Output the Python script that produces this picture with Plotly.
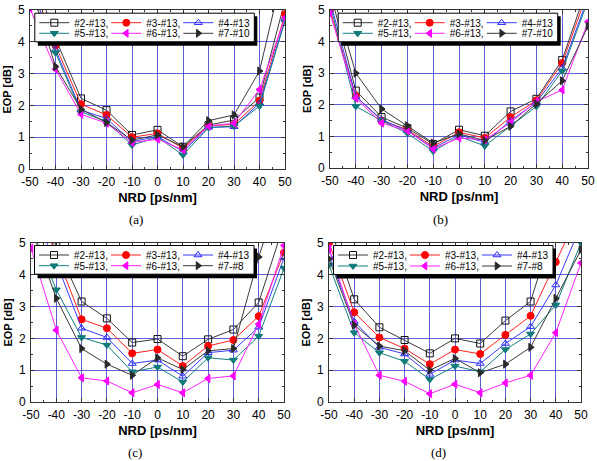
import plotly.graph_objects as go

W, H = 597, 461

# ---------------- data ----------------
NRD = [-50, -40, -30, -20, -10, 0, 10, 20, 30, 40, 50]
Y_TICKS = [0, 1, 2, 3, 4, 5]
X_TICKS = [-50, -40, -30, -20, -10, 0, 10, 20, 30, 40, 50]

names_ab = ["#2-#13,", "#3-#13,", "#4-#13", "#5-#13,", "#6-#13,", "#7-#10"]
names_cd = ["#2-#13,", "#3-#13,", "#4-#13", "#5-#13,", "#6-#13,", "#7-#8"]

# panel (a)
a_s2 = [6.5, 4.1, 2.22, 1.85, 1.07, 1.23, 0.70, 1.38, 1.54, 2.25, 5.3]
a_s3 = [6.0, 3.88, 2.04, 1.70, 1.00, 1.12, 0.65, 1.36, 1.40, 2.15, 4.87]
a_s4 = [5.8, 3.75, 1.85, 1.59, 0.86, 1.02, 0.55, 1.31, 1.33, 2.07, 4.70]
a_s5 = [5.6, 3.66, 1.80, 1.49, 0.75, 1.00, 0.44, 1.30, 1.35, 1.98, 4.66]
a_s6 = [5.05, 3.14, 1.72, 1.44, 0.83, 0.94, 0.60, 1.35, 1.44, 2.50, 4.75]
a_s7 = [5.8, 3.22, 1.88, 1.46, 0.91, 1.07, 0.70, 1.52, 1.70, 3.08, 6.5]

# panel (b)
b_s2 = [5.6, 2.45, 1.61, 1.26, 0.76, 1.21, 1.02, 1.79, 2.19, 3.42, 5.8]
b_s3 = [5.0, 2.28, 1.50, 1.21, 0.68, 1.13, 0.95, 1.61, 2.14, 3.32, 5.6]
b_s4 = [5.3, 2.26, 1.53, 1.18, 0.63, 1.05, 0.81, 1.50, 2.08, 3.16, 5.4]
b_s5 = [5.2, 1.95, 1.50, 1.10, 0.53, 1.00, 0.70, 1.34, 1.95, 3.07, 5.3]
b_s6 = [4.9, 2.21, 1.42, 1.18, 0.60, 0.95, 0.89, 1.44, 2.10, 2.47, 4.63]
b_s7 = [5.8, 3.00, 1.87, 1.34, 0.79, 1.08, 0.87, 1.32, 2.03, 2.76, 4.49]

# panel (c)
c_s2 = [7.0, 4.9, 3.16, 2.63, 1.87, 1.98, 1.44, 1.97, 2.28, 3.13, 5.6]
c_s3 = [6.5, 4.66, 2.60, 2.32, 1.53, 1.65, 1.13, 1.76, 1.95, 2.70, 4.70]
c_s4 = [6.0, 4.4, 2.32, 2.03, 1.21, 1.32, 0.81, 1.55, 1.63, 2.35, 4.53]
c_s5 = [5.5, 3.53, 2.03, 1.79, 0.95, 1.10, 0.63, 1.39, 1.32, 2.07, 4.21]
c_s6 = [4.84, 2.26, 0.76, 0.66, 0.29, 0.55, 0.29, 0.74, 0.82, 2.45, 4.92]
c_s7 = [5.5, 3.26, 1.68, 1.19, 0.84, 1.39, 1.02, 1.61, 1.68, 4.56, 7.0]

# panel (d)
d_s2 = [5.6, 3.23, 2.35, 1.95, 1.53, 2.00, 1.84, 2.56, 3.16, 5.7, 8.0]
d_s3 = [5.0, 2.82, 2.03, 1.68, 1.19, 1.65, 1.51, 2.11, 2.71, 4.40, 6.1]
d_s4 = [4.6, 2.53, 1.72, 1.51, 0.87, 1.32, 1.21, 1.84, 2.37, 3.68, 5.56]
d_s5 = [4.31, 2.18, 1.55, 1.28, 0.71, 1.13, 0.95, 1.65, 2.14, 3.05, 5.0]
d_s6 = [4.82, 2.45, 0.84, 0.65, 0.26, 0.56, 0.29, 0.60, 0.84, 2.18, 4.37]
d_s7 = [4.5, 2.42, 1.76, 1.61, 1.00, 1.37, 0.92, 1.19, 1.72, 3.26, 4.79]

panel_series = [
    [a_s2, a_s3, a_s4, a_s5, a_s6, a_s7],
    [b_s2, b_s3, b_s4, b_s5, b_s6, b_s7],
    [c_s2, c_s3, c_s4, c_s5, c_s6, c_s7],
    [d_s2, d_s3, d_s4, d_s5, d_s6, d_s7],
]
panel_names = [names_ab, names_ab, names_cd, names_cd]
panel_tags = ["(a)", "(b)", "(c)", "(d)"]

# ---------------- styles ----------------
STYLES = [
    dict(line="#3a3a3a", symbol="square-open", mcolor="#111111", mline="#111111"),
    dict(line="#ff2020", symbol="circle", mcolor="#ff0000", mline="#ff0000"),
    dict(line="#3a3aff", symbol="triangle-up-open", mcolor="#2a2aff", mline="#2a2aff"),
    dict(line="#138080", symbol="triangle-down", mcolor="#0f7a7a", mline="#0f7a7a"),
    dict(line="#ff20ff", symbol="triangle-left", mcolor="#ff00ff", mline="#ff00ff"),
    dict(line="#3a3a3a", symbol="triangle-right", mcolor="#2a2a2a", mline="#2a2a2a"),
]

# panel pixel boxes: (x_left, x_right, y_top, y_bottom)
PANELS = [
    (30, 285, 10, 169),
    (330, 588, 10, 168),
    (31, 284, 243, 402),
    (329, 581, 243, 402),
]
# legend symbol start x, row1 centre y, row2 centre y
LEG = [
    (39.3, 22.7, 33.3),
    (342.7, 22.7, 33.3),
    (39.0, 255.0, 265.7),
    (338.0, 255.0, 266.0),
]
TAGS_XY = [(136, 220), (440, 220), (135, 452), (438, 452)]

FONT = "Liberation Sans, Arial, sans-serif"
SERIF = "Liberation Serif, Times New Roman, serif"

def px(x):
    return x / W

def py(y):
    return 1 - y / H

fig = go.Figure()
layout = dict(
    width=W, height=H,
    margin=dict(l=0, r=0, t=0, b=0, autoexpand=False),
    paper_bgcolor="white", plot_bgcolor="white",
    font=dict(family=FONT, color="black"),
    shapes=[], annotations=[],
)

ENTRY_W = 27
ITEM_STEP = 40 + ENTRY_W + 5

for p in range(4):
    xl, xr, yt, yb = PANELS[p]
    ax = "" if p == 0 else str(p + 1)
    common = dict(
        showline=True, linecolor="#333333", linewidth=1, mirror="allticks",
        ticks="inside", ticklen=4, tickcolor="#333333", tickwidth=1,
        showgrid=True, gridcolor="rgba(50,50,205,0.78)", gridwidth=1,
        zeroline=False, tickfont=dict(size=12, family=FONT, color="black"),
    )
    layout["xaxis" + ax] = dict(
        common, domain=[px(xl), px(xr)], range=[-50, 50], anchor="y" + ax,
        tickmode="array", tickvals=X_TICKS, ticktext=[str(v) for v in X_TICKS],
        minor=dict(ticks="inside", ticklen=2, tickcolor="#333333", dtick=5, tick0=0, showgrid=False),
        ticklabelstandoff=2,
        title=dict(text="<b>NRD [ps/nm]</b>", font=dict(size=13, family=FONT), standoff=4),
    )
    layout["yaxis" + ax] = dict(
        common, domain=[py(yb), py(yt)], range=[0, 5], anchor="x" + ax,
        tickmode="array", tickvals=Y_TICKS, ticktext=[str(v) for v in Y_TICKS],
        minor=dict(ticks="inside", ticklen=2, tickcolor="#333333", dtick=0.5, tick0=0, showgrid=False),
        ticklabelstandoff=2,
        title=dict(text="<b>EOP [dB]</b>", font=dict(size=11, family=FONT), standoff=4),
    )

    sx, r1, r2 = LEG[p]
    for row, cy in enumerate([r1, r2]):
        lid = "legend" if (2 * p + row) == 0 else "legend%d" % (2 * p + row + 1)
        layout[lid] = dict(
            x=px(sx - 5), y=py(cy - 14.5), xanchor="left", yanchor="top",
            orientation="h", bgcolor="rgba(0,0,0,0)", borderwidth=0,
            font=dict(size=10, family=FONT, color="black"),
            entrywidth=ENTRY_W, entrywidthmode="pixels", itemwidth=30,
            traceorder="normal",
        )

    # legend frame with shadow
    bx0 = sx - 4.5
    bx1 = sx - 5 + 2 * ITEM_STEP + 40 + 32 + 4
    by0 = r1 - 9.5
    by1 = r2 + 8.5
    layout["shapes"].append(dict(
        type="rect", xref="paper", yref="paper", layer="above",
        x0=px(bx0 + 3), x1=px(bx1 + 3), y0=py(by1 + 4), y1=py(by0 + 3),
        fillcolor="black", line=dict(width=0),
    ))
    layout["shapes"].append(dict(
        type="rect", xref="paper", yref="paper", layer="above",
        x0=px(bx0), x1=px(bx1), y0=py(by1), y1=py(by0),
        fillcolor="white", line=dict(color="black", width=1),
    ))

    tx, ty = TAGS_XY[p]
    layout["annotations"].append(dict(
        text=panel_tags[p], x=px(tx), y=py(ty), xref="paper", yref="paper",
        xanchor="center", yanchor="middle", showarrow=False,
        font=dict(size=13, family=SERIF, color="black"),
    ))

    for k, ys in enumerate(panel_series[p]):
        st = STYLES[k]
        row = 0 if k < 3 else 1
        lid = "legend" if (2 * p + row) == 0 else "legend%d" % (2 * p + row + 1)
        fig.add_trace(go.Scatter(
            x=NRD, y=ys, name=panel_names[p][k], mode="lines+markers",
            xaxis="x" + ax, yaxis="y" + ax, legend=lid,
            line=dict(color=st["line"], width=1),
            marker=dict(symbol=st["symbol"], size=7, color=st["mcolor"],
                        line=dict(color=st["mline"], width=1)),
            cliponaxis=True,
        ))

fig.update_layout(**layout)
fig.write_html("out.html")
